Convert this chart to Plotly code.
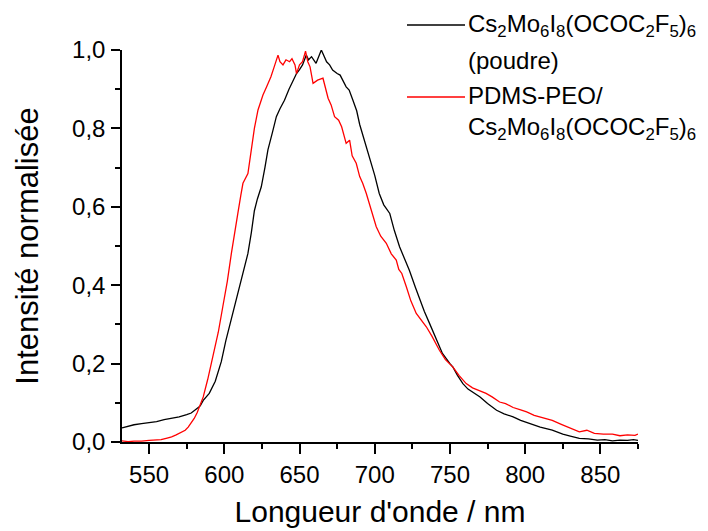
import plotly.graph_objects as go

# ---- data ----
wl_powder = [532, 536, 540, 545, 550, 555, 560, 565, 570, 575, 578, 581, 584, 586, 590, 594, 598,
             601, 605, 609, 612, 615.7, 618, 620, 622, 624.6, 627, 629, 632, 634.6, 637, 640, 643,
             646, 648, 650, 652, 654.5, 656, 658, 661, 664.5, 666, 668, 670, 672, 675, 677, 681, 683,
             685.5, 688, 690, 693, 696.6, 700, 703, 706, 710, 713, 716.5, 720, 723, 727, 730, 733,
             736.5, 740, 745, 750, 752, 755, 758.6, 762, 766, 770, 775, 781, 786, 792, 797, 803, 810,
             818, 825, 830, 836, 842, 848, 853, 858, 863, 868, 872, 875]
int_powder = [0.036, 0.040, 0.044, 0.047, 0.050, 0.052, 0.057, 0.060, 0.064, 0.070, 0.074, 0.083,
              0.092, 0.106, 0.124, 0.155, 0.205, 0.258, 0.318, 0.379, 0.425, 0.481, 0.535, 0.590,
              0.620, 0.651, 0.700, 0.745, 0.790, 0.830, 0.850, 0.872, 0.900, 0.925, 0.940, 0.950,
              0.962, 0.987, 0.975, 0.983, 0.966, 1.000, 0.985, 0.970, 0.962, 0.949, 0.940, 0.936,
              0.906, 0.898, 0.872, 0.845, 0.810, 0.770, 0.728, 0.680, 0.634, 0.605, 0.583, 0.540,
              0.498, 0.468, 0.438, 0.395, 0.362, 0.333, 0.302, 0.270, 0.226, 0.200, 0.191, 0.170,
              0.149, 0.135, 0.125, 0.115, 0.098, 0.081, 0.072, 0.064, 0.055, 0.047, 0.038, 0.030,
              0.020, 0.015, 0.009, 0.008, 0.005, 0.006, 0.003, 0.005, 0.004, 0.006, 0.004]

wl_film = [532, 536, 540, 545, 550, 555, 558, 562, 565, 568, 571, 574, 576, 578, 580, 582, 584, 586,
           589, 592.5, 596, 599, 602, 604.7, 607, 609, 611, 612.4, 615.7, 618, 620, 622.4, 625.7,
           628, 631, 633, 635.7, 637, 639, 641, 643.4, 645, 647, 648, 650, 652, 654, 655.5, 657,
           659, 662, 665.6, 667, 669, 671, 673.3, 676, 678, 681, 683.3, 685, 687.7, 690, 692, 694.4,
           697, 699, 701, 704, 707.7, 711, 714.3, 716, 718, 721, 724, 727.6, 731, 734.3, 738, 743,
           747, 752, 756, 760.8, 765, 770, 774, 778, 783, 787, 792, 797, 801, 806, 812, 818, 824,
           830, 836, 841, 846, 852, 858, 863, 868, 873, 875]
int_film = [0.003, 0.001, 0.002, 0.002, 0.004, 0.005, 0.006, 0.010, 0.013, 0.018, 0.024, 0.030,
            0.038, 0.048, 0.060, 0.075, 0.095, 0.115, 0.160, 0.217, 0.280, 0.345, 0.410, 0.481,
            0.530, 0.583, 0.630, 0.660, 0.685, 0.753, 0.800, 0.847, 0.885, 0.905, 0.932, 0.955,
            0.987, 0.970, 0.962, 0.975, 0.970, 0.978, 0.962, 0.940, 0.962, 0.970, 0.997, 0.970,
            0.957, 0.915, 0.923, 0.928, 0.905, 0.877, 0.860, 0.830, 0.821, 0.804, 0.762, 0.770,
            0.730, 0.711, 0.677, 0.660, 0.634, 0.600, 0.575, 0.549, 0.525, 0.507, 0.480, 0.464,
            0.440, 0.430, 0.396, 0.360, 0.328, 0.310, 0.294, 0.270, 0.234, 0.210, 0.191, 0.170,
            0.149, 0.138, 0.130, 0.124, 0.115, 0.102, 0.098, 0.088, 0.082, 0.077, 0.068, 0.062,
            0.055, 0.045, 0.035, 0.026, 0.030, 0.022, 0.020, 0.020, 0.016, 0.018, 0.017, 0.020]

formula = "Cs<sub>2</sub>Mo<sub>6</sub>I<sub>8</sub>(OCOC<sub>2</sub>F<sub>5</sub>)<sub>6</sub>"
legend_powder = [formula, "(poudre)"]
legend_film = ["PDMS-PEO/", formula]
x_ticks = [550, 600, 650, 700, 750, 800, 850]
y_ticks = [0.0, 0.2, 0.4, 0.6, 0.8, 1.0]

FONT = "Liberation Sans, Arial, sans-serif"
OFF = 8  # page body margin
W, H = 708 - OFF, 531 - OFF
L, R, T, B = 122 - OFF, 70, 50 - OFF, 89
pw, ph = W - L - R, H - T - B

# convert screen pixel positions (of the 708x531 window) to paper coordinates
def px_x(p):
    return (p - OFF - L) / pw

def px_y(p):
    return (H - B - (p - OFF)) / ph

fig = go.Figure()
fig.add_trace(go.Scatter(x=wl_powder, y=int_powder, mode="lines", name="<br>".join(legend_powder),
                         line=dict(color="#000000", width=1.3), showlegend=False))
fig.add_trace(go.Scatter(x=wl_film, y=int_film, mode="lines", name="<br>".join(legend_film),
                         line=dict(color="#FF0000", width=1.3), showlegend=False))

# manual legend
for ly, col in [(25, "#000000"), (97, "#FF0000")]:
    fig.add_shape(type="line", xref="paper", yref="paper",
                  x0=px_x(407), x1=px_x(465), y0=px_y(ly), y1=px_y(ly),
                  line=dict(color=col, width=1.5))
rows = [(26, legend_powder[0]), (61, legend_powder[1]), (96, legend_film[0]), (128, legend_film[1])]
for ty, txt in rows:
    fig.add_annotation(text=txt, xref="paper", yref="paper", x=px_x(466), y=px_y(ty),
                       xanchor="left", yanchor="middle", align="left", showarrow=False,
                       font=dict(family=FONT, size=24, color="black"))

fig.update_layout(
    width=W, height=H, margin=dict(l=L, r=R, t=T, b=B),
    paper_bgcolor="white", plot_bgcolor="white",
    separators=", ",
    font=dict(family=FONT, color="black"),
    showlegend=False,
)
fig.update_xaxes(range=[532, 875], tickvals=x_ticks, showline=True, linecolor="black", linewidth=1.5,
                 ticks="outside", ticklen=10, tickwidth=1.5, tickcolor="black", automargin=False,
                 minor=dict(ticks="outside", ticklen=5, tickwidth=1.5, dtick=25, tick0=0, tickcolor="black"),
                 showgrid=False, zeroline=False, mirror=False,
                 tickfont=dict(family=FONT, size=24, color="black"),
                 title=dict(text="Longueur d'onde / nm", font=dict(family=FONT, size=30, color="black"), standoff=14))
fig.update_yaxes(range=[0, 1.0], tickvals=y_ticks, tickformat=".1f", showline=True, linecolor="black",
                 linewidth=1.5, ticks="outside", ticklen=9, tickwidth=1.5, tickcolor="black", automargin=False,
                 ticklabelstandoff=1,
                 minor=dict(ticks="outside", ticklen=5, tickwidth=1.5, dtick=0.1, tick0=0, tickcolor="black"),
                 showgrid=False, zeroline=False, mirror=False,
                 tickfont=dict(family=FONT, size=24, color="black"),
                 title=dict(text="Intensité normalisée", font=dict(family=FONT, size=31, color="black"), standoff=24))

fig.write_html("out.html")
